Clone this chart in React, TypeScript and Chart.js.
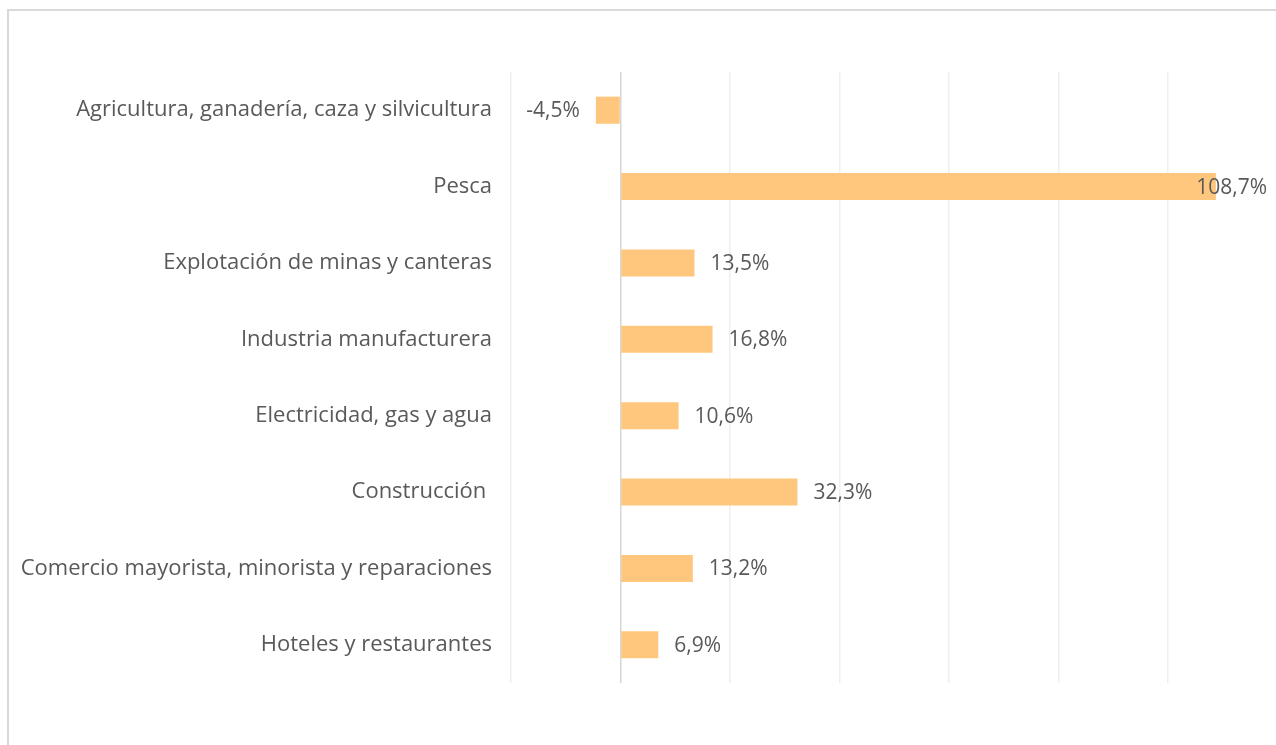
import React, { useEffect, useRef } from "react";
import { Chart, registerables } from "chart.js";

Chart.register(...registerables);

const categories = [
  "Agricultura, ganadería, caza y silvicultura",
  "Pesca",
  "Explotación de minas y canteras",
  "Industria manufacturera",
  "Electricidad, gas y agua",
  "Construcción ",
  "Comercio mayorista, minorista y reparaciones",
  "Hoteles y restaurantes",
];
const values = [-4.5, 108.7, 13.5, 16.8, 10.6, 32.3, 13.2, 6.9];
const xMin = -20;
const xMax = 110;
const xStep = 20;

const FONT = "'Open Sans', sans-serif";
const TEXT = "#595959";

const fmt = (v: number) => v.toFixed(1).replace(".", ",") + "%";

const labelPlugin = {
  id: "barLabels",
  afterDatasetsDraw(chart: any) {
    const ctx = chart.ctx;
    const meta = chart.getDatasetMeta(0);
    ctx.save();
    ctx.font = `21px ${FONT}`;
    ctx.fillStyle = TEXT;
    ctx.textBaseline = "middle";
    meta.data.forEach((el: any, i: number) => {
      const v = values[i];
      const t = fmt(v);
      const w = ctx.measureText(t).width;
      if (v >= 0) {
        let x = el.x + 16;
        x = Math.min(x, chart.width - 9 - w);
        ctx.textAlign = "left";
        ctx.fillText(t, x, el.y + 1);
      } else {
        ctx.textAlign = "right";
        ctx.fillText(t, el.x - 16, el.y + 1);
      }
    });
    ctx.restore();
  },
};

export default function App() {
  const ref = useRef<HTMLCanvasElement>(null);
  useEffect(() => {
    if (!ref.current) return;
    const chart = new Chart(ref.current, {
      type: "bar",
      data: {
        labels: categories,
        datasets: [
          {
            data: values,
            backgroundColor: "#FFC77D",
            borderWidth: 0,
            categoryPercentage: 1,
            barPercentage: 0.355,
          },
        ],
      },
      options: {
        indexAxis: "y",
        responsive: false,
        animation: false,
        devicePixelRatio: 1,
        layout: { padding: { top: 72, bottom: 62, left: 0, right: 53 } },
        plugins: { legend: { display: false }, tooltip: { enabled: false } },
        scales: {
          x: {
            min: xMin,
            max: xMax,
            ticks: { display: false, stepSize: xStep },
            border: { display: false },
            grid: {
              drawTicks: false,
              lineWidth: 1.5,
              color: (c: any) =>
                c.tick && c.tick.value === 0
                  ? "#d6d6d6"
                  : c.tick && c.tick.value > 100
                  ? "rgba(0,0,0,0)"
                  : "#efefef",
            },
            afterFit: (s: any) => {
              s.height = 0;
            },
          },
          y: {
            grid: { display: false, drawTicks: false },
            border: { display: false },
            ticks: {
              padding: 19,
              color: TEXT,
              font: { family: FONT, size: 22 },
              autoSkip: false,
            },
            afterFit: (s: any) => {
              s.width = 511;
            },
          },
        },
      },
      plugins: [labelPlugin],
    });
    return () => chart.destroy();
  }, []);
  return (
    <>
      <div
        style={{
          position: "fixed",
          left: 7,
          top: 9,
          width: 1269,
          height: 736,
          borderLeft: "2px solid #d9d9d9",
          borderTop: "2px solid #d9d9d9",
          boxSizing: "border-box",
        }}
      />
      <canvas
        ref={ref}
        width={1276}
        height={745}
        style={{ position: "fixed", left: 0, top: 0 }}
      />
    </>
  );
}
